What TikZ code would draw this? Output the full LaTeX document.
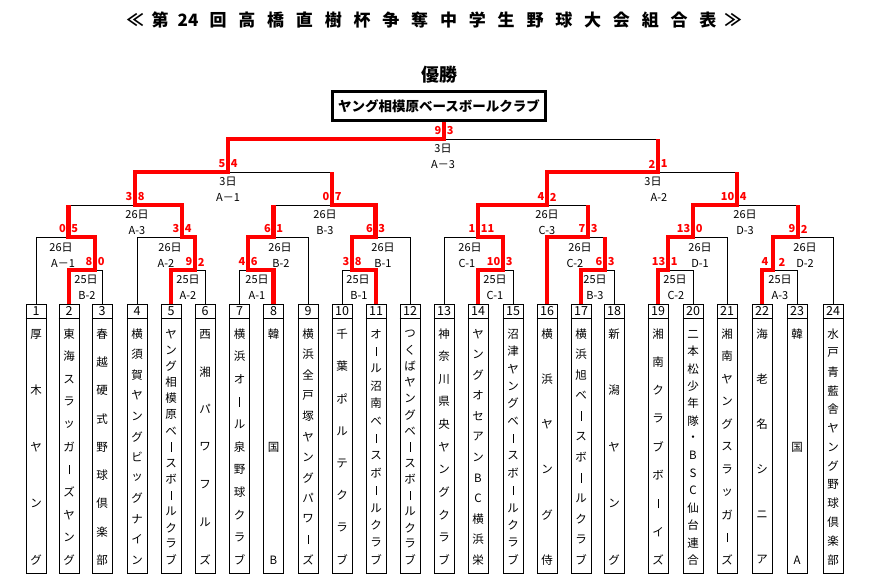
\documentclass[tikz,border=0pt]{standalone}
\usepackage{fontspec}
\setmainfont{Noto Sans CJK JP}
\newcommand\vb{\rule[-0.5pt]{0.8pt}{9.5pt}}
\begin{document}
\begin{tikzpicture}[x=1pt,y=-1pt,
  bk/.style={line width=0.9pt},
  rd/.style={line width=4.6pt,draw=red},
  tb/.style={draw,line width=0.9pt,minimum width=20pt,minimum height=269pt,inner sep=0pt},
  num/.style={inner sep=0pt,font=\fontsize{12.5}{12.5}\selectfont},
  nm/.style={inner sep=0pt,font=\fontsize{11.5}{11.5}\selectfont},
  lb/.style={inner sep=0pt,font=\fontsize{11}{11}\selectfont},
  sc/.style={inner sep=0pt,text=red,font=\bfseries\fontsize{11}{11}\selectfont},
  tt/.style={inner sep=0pt,font=\bfseries\fontsize{17}{17}\selectfont},
]
\useasboundingbox (0,0) rectangle (869,580);

% title
\node[tt] (tl) at (135,20) {≪};
\node[tt] (t1) at (160,20) {第};
\node[tt] (t2) at (188,20) {24};
\foreach \c [count=\k from 0] in {回,高,橋,直,樹,杯,争,奪,中,学,生,野,球,大,会,組,合,表}
  \node[tt] (tc\k) at ({218+\k*28.82},20) {\c};
\node[tt] (tr) at (733,20) {≫};

% champion
\node[inner sep=0pt,font=\bfseries\fontsize{18}{18}\selectfont] (yusho) at (439,75) {優勝};
\node[draw,line width=3.2pt,minimum width=213pt,minimum height=29pt,inner sep=0pt,
      font=\bfseries\fontsize{13.5}{13.5}\selectfont] (win) at (439,106) {ヤング相模原ベースボールクラブ};

% team boxes
\foreach \i/\x/\n/\chars in {
 1/36/5/{厚,木,ヤ,ン,グ},
 2/69/11/{東,海,ス,ラ,ッ,ガ,\vb,ズ,ヤ,ン,グ},
 3/102/9/{春,越,硬,式,野,球,倶,楽,部},
 4/137/12/{横,須,賀,ヤ,ン,グ,ビ,ッ,グ,ナ,イ,ン},
 5/171/15/{ヤ,ン,グ,相,模,原,ベ,\vb,ス,ボ,\vb,ル,ク,ラ,ブ},
 6/205/7/{西,湘,パ,ワ,フ,ル,ズ},
 7/239.5/11/{横,浜,オ,\vb,ル,泉,野,球,ク,ラ,ブ},
 8/273.5/3/{韓,国,B},
 9/308/12/{横,浜,全,戸,塚,ヤ,ン,グ,パ,ワ,\vb,ズ},
 10/342/8/{千,葉,ポ,ル,テ,ク,ラ,ブ},
 11/376/14/{オ,\vb,ル,沼,南,ベ,\vb,ス,ボ,\vb,ル,ク,ラ,ブ},
 12/410/15/{つ,く,ば,ヤ,ン,グ,ベ,\vb,ス,ボ,\vb,ル,ク,ラ,ブ},
 13/444/11/{神,奈,川,県,央,ヤ,ン,グ,ク,ラ,ブ},
 14/478/12/{ヤ,ン,グ,オ,セ,ア,ン,B,C,横,浜,栄},
 15/513/14/{沼,津,ヤ,ン,グ,ベ,\vb,ス,ボ,\vb,ル,ク,ラ,ブ},
 16/547/6/{横,浜,ヤ,ン,グ,侍},
 17/581/12/{横,浜,旭,ベ,\vb,ス,ボ,\vb,ル,ク,ラ,ブ},
 18/614/5/{新,潟,ヤ,ン,グ},
 19/658/9/{湘,南,ク,ラ,ブ,ボ,\vb,イ,ズ},
 20/693/14/{二,本,松,少,年,隊,・,B,S,C,仙,台,連,合},
 21/727/11/{湘,南,ヤ,ン,グ,ス,ラ,ッ,ガ,\vb,ズ},
 22/762/6/{海,老,名,シ,ニ,ア},
 23/797/3/{韓,国,A},
 24/833/13/{水,戸,青,藍,舎,ヤ,ン,グ,野,球,倶,楽,部}}{
 \node[tb] (b\i) at (\x,438.5) {};
 \draw[bk] ([yshift=-15pt]b\i.north west) -- ([yshift=-15pt]b\i.north east);
 \node[num] (n\i) at ([yshift=-7.8pt]b\i.north) {\i};
 \foreach \c [count=\k from 0] in \chars {\node[nm] (c\i-\k) at (\x,{334+\k*226/(\n-1)}) {\c};}
}

% match centres
\coordinate (Ma) at (95,270);
\coordinate (Mb) at (68.5,237);
\coordinate (Mc) at (195,270);
\coordinate (Md) at (182,237);
\coordinate (Me) at (135,205);
\coordinate (Mf) at (248,270);
\coordinate (Mg) at (273.5,237);
\coordinate (Mh) at (352,270);
\coordinate (Mi) at (375.5,237);
\coordinate (Mj) at (332,205);
\coordinate (Mk) at (228,172);
\coordinate (Mm) at (503,270);
\coordinate (Mn) at (478,237);
\coordinate (Mo) at (605,270);
\coordinate (Mp) at (588,237);
\coordinate (Mq) at (547,205);
\coordinate (Mr) at (668,270);
\coordinate (Ms) at (693,237);
\coordinate (Mt) at (773,270);
\coordinate (Mu) at (798,237);
\coordinate (Mv) at (737,205);
\coordinate (Ml) at (658,172);
\coordinate (Mz) at (444,139);

% black bracket
\draw[bk] (b2.north) |- (Ma) (b3.north) |- (Ma);
\draw[bk] (b1.north) |- (Mb) (Ma) |- (Mb);
\draw[bk] (b5.north) |- (Mc) (b6.north) |- (Mc);
\draw[bk] (b4.north) |- (Md) (Mc) |- (Md);
\draw[bk] (Mb) |- (Me) (Md) |- (Me);
\draw[bk] (b7.north) |- (Mf) (b8.north) |- (Mf);
\draw[bk] (Mf) |- (Mg) (b9.north) |- (Mg);
\draw[bk] (b10.north) |- (Mh) (b11.north) |- (Mh);
\draw[bk] (Mh) |- (Mi) (b12.north) |- (Mi);
\draw[bk] (Mg) |- (Mj) (Mi) |- (Mj);
\draw[bk] (Me) |- (Mk) (Mj) |- (Mk);
\draw[bk] (b14.north) |- (Mm) (b15.north) |- (Mm);
\draw[bk] (b13.north) |- (Mn) (Mm) |- (Mn);
\draw[bk] (b17.north) |- (Mo) (b18.north) |- (Mo);
\draw[bk] (b16.north) |- (Mp) (Mo) |- (Mp);
\draw[bk] (Mn) |- (Mq) (Mp) |- (Mq);
\draw[bk] (b19.north) |- (Mr) (b20.north) |- (Mr);
\draw[bk] (Mr) |- (Ms) (b21.north) |- (Ms);
\draw[bk] (b22.north) |- (Mt) (b23.north) |- (Mt);
\draw[bk] (Mt) |- (Mu) (b24.north) |- (Mu);
\draw[bk] (Ms) |- (Mv) (Mu) |- (Mv);
\draw[bk] (Mq) |- (Ml) (Mv) |- (Ml);
\draw[bk] (Mk) |- (Mz) (Ml) |- (Mz);

% red winner paths
\draw[rd] (b2.north) |- (Ma) -- (Ma |- Mb);
\draw[rd] (Ma) |- (Mb) -- (Mb |- Me);
\draw[rd] (b5.north) |- (Mc) -- (Mc |- Md);
\draw[rd] (Mc) |- (Md) -- (Md |- Me);
\draw[rd] (Md) |- (Me) -- (Me |- Mk);
\draw[rd] (b8.north) |- (Mf) -- (Mf |- Mg);
\draw[rd] (Mf) |- (Mg) -- (Mg |- Mj);
\draw[rd] (b11.north) |- (Mh) -- (Mh |- Mi);
\draw[rd] (Mh) |- (Mi) -- (Mi |- Mj);
\draw[rd] (Mi) |- (Mj) -- (Mj |- Mk);
\draw[rd] (Me) |- (Mk) -- (Mk |- Mz);
\draw[rd] (b14.north) |- (Mm) -- (Mm |- Mn);
\draw[rd] (Mm) |- (Mn) -- (Mn |- Mq);
\draw[rd] (b17.north) |- (Mo) -- (Mo |- Mp);
\draw[rd] (b16.north) |- (Mp) -- (Mp |- Mq);
\draw[rd] (Mn) |- (Mq) -- (Mq |- Ml);
\draw[rd] (b19.north) |- (Mr) -- (Mr |- Ms);
\draw[rd] (Mr) |- (Ms) -- (Ms |- Mv);
\draw[rd] (b22.north) |- (Mt) -- (Mt |- Mu);
\draw[rd] (Mt) |- (Mu) -- (Mu |- Mv);
\draw[rd] (Ms) |- (Mv) -- (Mv |- Ml);
\draw[rd] (Mq) |- (Ml) -- (Ml |- Mz);
\draw[rd] (Mk) |- (Mz) -- (Mz |- win.south);

% scores
\foreach \m/\l/\r in {Ma/8/0,Mb/0/5,Mc/9/2,Md/3/4,Me/3/8,Mf/4/6,Mg/6/1,Mh/3/8,Mi/6/3,Mj/0/7,
  Mk/5/4,Mz/9/3,Mm/10/3,Mn/1/11,Mo/6/3,Mp/7/3,Mq/4/2,Mr/13/1,Ms/13/0,Mu/9/2,Mv/10/4,Ml/2/1}{
  \node[sc,anchor=east] (sl\m) at ([xshift=-2.6pt,yshift=8pt]\m) {\l};
  \node[sc,anchor=west] (sr\m) at ([xshift=2.6pt,yshift=8pt]\m) {\r};
}
\node[sc] (slMt) at (765,262) {4};
\node[sc] (srMt) at (782,262) {2};

% match labels
\foreach \m/\xd/\xc/\yd/\d/\cc in {
 a/86/87/280/25日/B-2, b/61/63/248/26日/A－1, c/188/188/280/25日/A-2,
 d/170/166/248/26日/A-2, e/137/137/215/26日/A-3, f/257/257/280/25日/A-1,
 g/280/281/248/26日/B-2, h/358/359/280/25日/B-1, i/383/383/248/26日/B-1,
 j/325/325/215/26日/B-3, k/228/228/182/3日/A－1, z/443/443/149/3日/A－3,
 m/495/495/280/25日/C-1, n/470/467/248/26日/C-1, o/595/595/280/25日/B-3,
 p/580/575/248/26日/C-2, q/547/547/215/26日/C-3, r/675/676/280/25日/C-2,
 s/700/700/248/26日/D-1, t/780/780/280/25日/A-3, u/805/805/248/26日/D-2,
 v/745/745/215/26日/D-3, l/653/659/182/3日/A-2}{
  \node[lb] (ld\m) at (\xd,\yd) {\d};
  \node[lb] (lc\m) at (\xc,\yd+15.5) {\cc};
}
\end{tikzpicture}
\end{document}
